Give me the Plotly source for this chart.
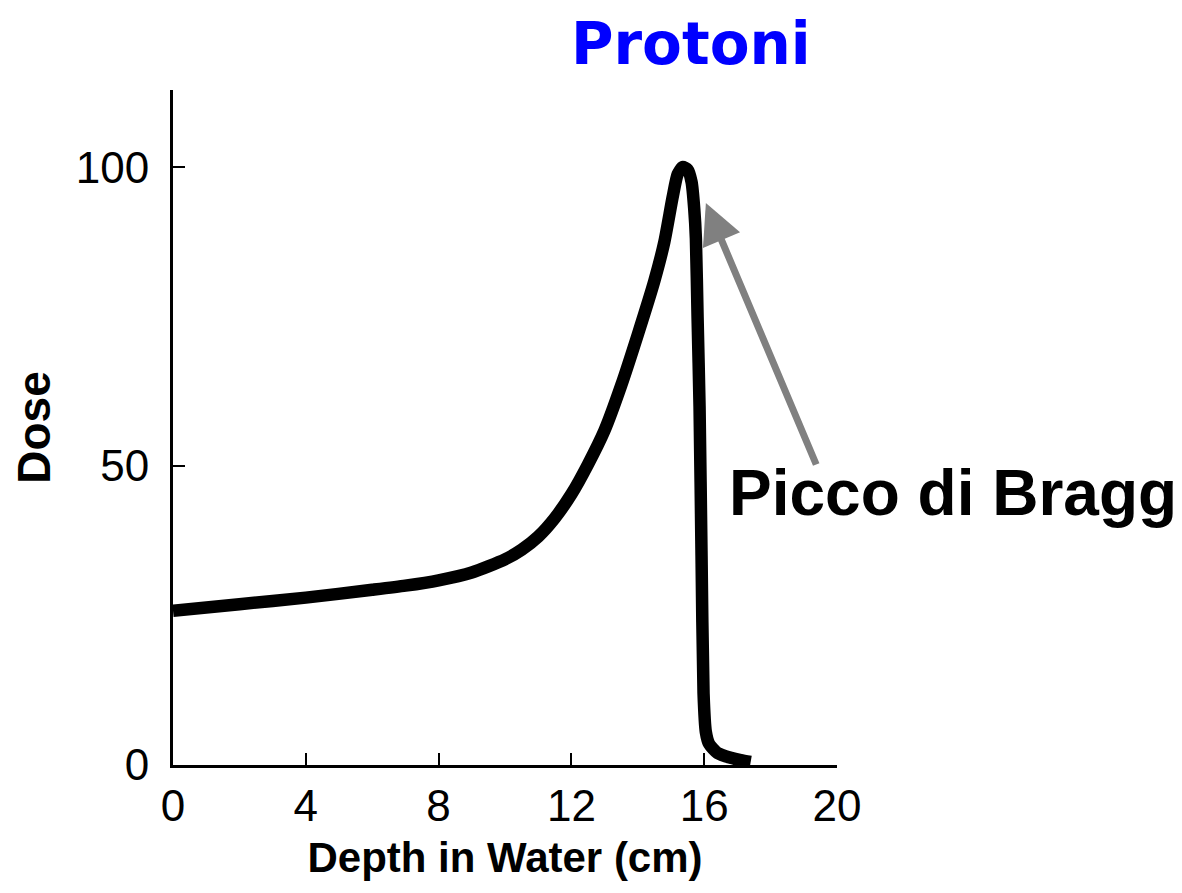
import plotly.graph_objects as go

# Depth-dose curve for protons
depth_cm = [0, 2, 4, 6, 7, 8, 9, 10, 10.5, 11, 11.5, 12, 12.5, 13, 13.5, 14,
            14.5, 14.8, 15.05, 15.2, 15.35, 15.5, 15.62, 15.7, 15.75, 15.8,
            15.86, 15.92, 15.98, 16.05, 16.15, 16.4, 16.8, 17.1, 17.4]
dose = [25.8, 26.9, 28.0, 29.3, 30.0, 30.9, 32.2, 34.4, 36.0, 38.2, 41.3, 45.3,
        50.3, 56.0, 63.5, 72.0, 81.0, 87.5, 95.0, 98.8, 100.0, 99.6, 97.5,
        93.0, 88.0, 75.0, 60.0, 35.0, 12.0, 5.5, 3.5, 2.0, 1.2, 0.8, 0.5]

x_ticks = [0, 4, 8, 12, 16, 20]
y_ticks = [0, 50, 100]

title_text = "Protoni"
peak_label = "Picco di Bragg"
peak_tip = (16.05, 94.0)

TICKFONT = "Liberation Sans Narrow, Arial Narrow, Liberation Sans, Arial, sans-serif"
BOLDFONT = "Liberation Sans, Arial, sans-serif"

fig = go.Figure()
fig.add_trace(go.Scatter(
    x=depth_cm, y=dose, mode="lines",
    line=dict(color="black", width=12.5, shape="spline", smoothing=0.6),
    showlegend=False, hoverinfo="skip",
))

fig.update_layout(
    width=1182, height=893,
    margin=dict(l=165, r=353, t=82, b=136),
    paper_bgcolor="white", plot_bgcolor="white",
    xaxis=dict(
        range=[0, 20], tickvals=x_ticks, ticktext=[str(v) for v in x_ticks],
        ticks="inside", ticklen=12, tickwidth=2, tickcolor="black",
        showline=True, linecolor="black", linewidth=3, mirror=False,
        showgrid=False, zeroline=False,
        tickfont=dict(family=TICKFONT, size=44, color="black"),
        title=dict(text="<b>Depth in Water (cm)</b>", standoff=14,
                   font=dict(family=BOLDFONT, size=42, color="black")),
    ),
    yaxis=dict(
        range=[0, 112.9], tickvals=y_ticks, ticktext=[str(v) for v in y_ticks],
        ticks="inside", ticklen=12, tickwidth=2, tickcolor="black",
        showline=True, linecolor="black", linewidth=3, mirror=False,
        showgrid=False, zeroline=False,
        tickfont=dict(family=TICKFONT, size=44, color="black"),
        ticklabelstandoff=12,
        title=dict(text="<b>Dose</b>", standoff=20,
                   font=dict(family=BOLDFONT, size=46, color="black")),
    ),
)

# Title as an annotation placed above the plot area
fig.add_annotation(
    x=15.6, y=1, xref="x", yref="paper", xanchor="center", yanchor="middle",
    yshift=46, text="<b>" + title_text + "</b>", showarrow=False,
    font=dict(family="DejaVu Sans, Noto Sans, sans-serif", size=58, color="#0000FF"),
)

fig.add_annotation(
    x=peak_tip[0], y=peak_tip[1], xref="x", yref="y",
    ax=111, ay=263, axref="pixel", ayref="pixel",
    text="", showarrow=True, arrowhead=2, arrowsize=1.15, arrowwidth=7,
    arrowcolor="#808080",
)
fig.add_annotation(
    x=16.68, y=45.5, xref="x", yref="y", xanchor="left", yanchor="middle",
    text="<b>" + peak_label + "</b>", showarrow=False,
    font=dict(family=BOLDFONT, size=64, color="black"),
)

fig.write_html("out.html")
